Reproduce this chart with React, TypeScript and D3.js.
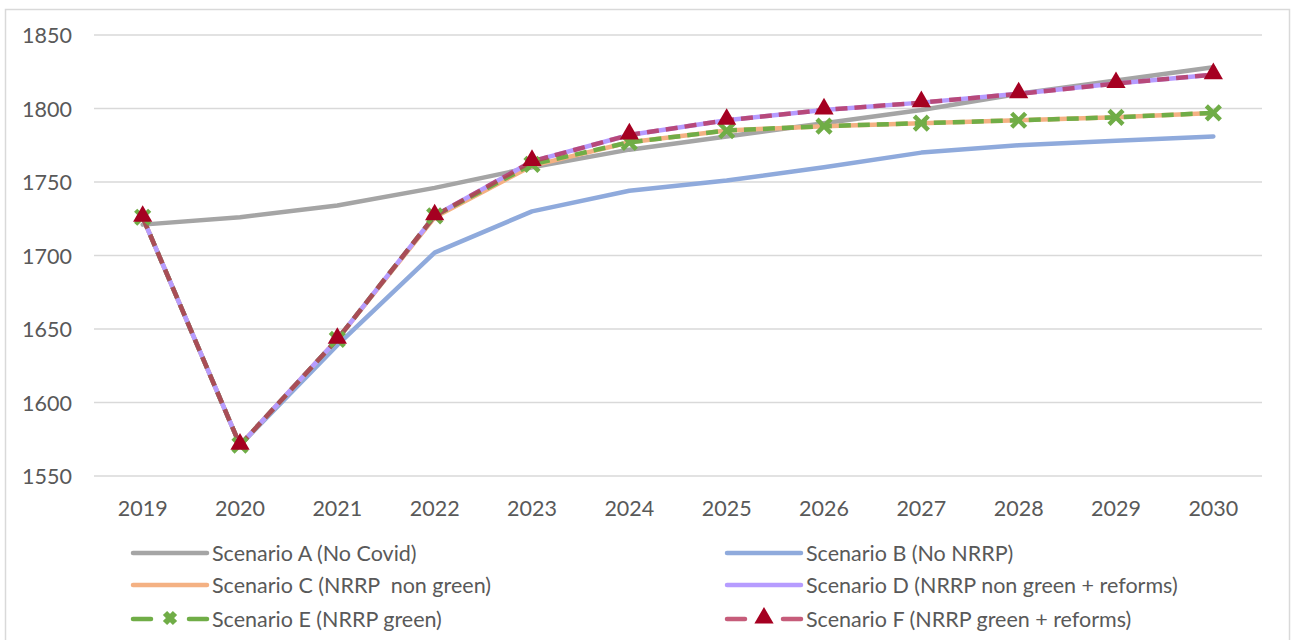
import * as d3 from "d3";
import React from "react";

const years = ["2019", "2020", "2021", "2022", "2023", "2024", "2025", "2026", "2027", "2028", "2029", "2030"];
const yTicks = [1550, 1600, 1650, 1700, 1750, 1800, 1850];

const scenarioA = [1721, 1726, 1734, 1746, 1760, 1772, 1781, 1790, 1799, 1810, 1819, 1828];
const scenarioB = [1726, 1571, 1639, 1702, 1730, 1744, 1751, 1760, 1770, 1775, 1778, 1781];
const scenarioC = [1726, 1571, 1643, 1726, 1761, 1777, 1785, 1788, 1790, 1792, 1794, 1797];
const scenarioD = [1726, 1571, 1643, 1727, 1764, 1782, 1792, 1799, 1804, 1810, 1817, 1823];
const scenarioE = [1726, 1571, 1643, 1727, 1762, 1777, 1785, 1788, 1790, 1792, 1794, 1797];
const scenarioF = [1726, 1571, 1643, 1727, 1764, 1782, 1792, 1799, 1804, 1810, 1817, 1823];

type Series = {
  name: string;
  values: number[];
  color: string;
  dash?: string;
  marker?: "x" | "tri";
  opacity?: number;
};

const series: Series[] = [
  { name: "Scenario A (No Covid)", values: scenarioA, color: "#A5A5A5" },
  { name: "Scenario B (No NRRP)", values: scenarioB, color: "#8FAADC" },
  { name: "Scenario C (NRRP  non green)", values: scenarioC, color: "#F4B183" },
  { name: "Scenario D (NRRP non green + reforms)", values: scenarioD, color: "#B69CFF" },
  { name: "Scenario E (NRRP green)", values: scenarioE, color: "#70AD47", dash: "12,7", marker: "x" },
  { name: "Scenario F (NRRP green + reforms)", values: scenarioF, color: "#B8345A", dash: "12,7", marker: "tri", opacity: 0.8 },
];

const font = "Lato, 'Open Sans', sans-serif";
const fontSize = 21.5;
const textColor = "#595959";

export default function App() {
  const ref = React.useRef<SVGSVGElement | null>(null);
  const width = 1293;
  const height = 640;

  React.useEffect(() => {
    if (!ref.current) return;
    const svg = d3.select(ref.current);
    svg.selectAll("*").remove();

    svg.append("rect").attr("width", width).attr("height", height).attr("fill", "#fff");
    svg
      .append("rect")
      .attr("x", 5.5)
      .attr("y", 9.5)
      .attr("width", 1284)
      .attr("height", 640)
      .attr("fill", "none")
      .attr("stroke", "#D9D9D9")
      .attr("stroke-width", 1.5);

    const x = d3.scaleBand<string>().domain(years).range([94, 1262]).padding(0);
    const y = d3.scaleLinear().domain([1550, 1850]).range([476, 35]);
    const cx = (i: number) => (x(years[i]) || 0) + x.bandwidth() / 2;

    // gridlines
    svg
      .append("g")
      .selectAll("line")
      .data(yTicks)
      .join("line")
      .attr("x1", 94)
      .attr("x2", 1262)
      .attr("y1", (d) => y(d))
      .attr("y2", (d) => y(d))
      .attr("stroke", "#D9D9D9")
      .attr("stroke-width", 1.5);

    svg
      .append("g")
      .selectAll("text")
      .data(yTicks)
      .join("text")
      .attr("x", 72)
      .attr("y", (d) => y(d))
      .attr("text-anchor", "end")
      .attr("dominant-baseline", "central")
      .attr("font-family", font)
      .attr("font-size", fontSize)
      .attr("fill", textColor)
      .text((d) => d);

    svg
      .append("g")
      .selectAll("text")
      .data(years)
      .join("text")
      .attr("x", (_d, i) => cx(i))
      .attr("y", 508)
      .attr("text-anchor", "middle")
      .attr("dominant-baseline", "central")
      .attr("font-family", font)
      .attr("font-size", fontSize)
      .attr("fill", textColor)
      .text((d) => d);

    const line = d3
      .line<number>()
      .x((_d, i) => cx(i))
      .y((d) => y(d));

    const triPath = d3.symbol().type(d3.symbolTriangle).size(160)();
    const xPath = "M-7,-7L7,7M7,-7L-7,7";

    series.forEach((s) => {
      const g = svg.append("g").attr("opacity", s.opacity ?? 1);
      g.append("path")
        .datum(s.values)
        .attr("d", line)
        .attr("fill", "none")
        .attr("stroke", s.color)
        .attr("stroke-width", 4.5)
        .attr("stroke-linejoin", "round")
        .attr("stroke-linecap", s.dash ? "butt" : "round")
        .attr("stroke-dasharray", s.dash || null);
    });

    series.forEach((s) => {
      if (!s.marker) return;
      const mg = svg.append("g");
      mg.selectAll("path")
        .data(s.values)
        .join("path")
        .attr("transform", (d, i) => `translate(${cx(i)},${y(d) - (s.marker === "tri" ? 1 : 0)})`)
        .attr("d", s.marker === "tri" ? triPath : xPath)
        .attr("fill", s.marker === "tri" ? "#A50021" : "none")
        .attr("stroke", s.marker === "tri" ? "none" : s.color)
        .attr("stroke-width", 4.5);
    });

    // legend
    const legendPos = [
      [133, 553],
      [727, 553],
      [133, 585],
      [727, 585],
      [133, 619],
      [727, 619],
    ];
    series.forEach((s, i) => {
      const [lx, ly] = legendPos[i];
      const g = svg.append("g");
      if (s.marker) {
        g.append("line")
          .attr("x1", lx).attr("x2", lx + 18).attr("y1", ly).attr("y2", ly)
          .attr("stroke", s.color).attr("stroke-width", 4.5).attr("stroke-linecap", "round")
          .attr("opacity", s.opacity ?? 1);
        g.append("line")
          .attr("x1", lx + 56).attr("x2", lx + 74).attr("y1", ly).attr("y2", ly)
          .attr("stroke", s.color).attr("stroke-width", 4.5).attr("stroke-linecap", "round")
          .attr("opacity", s.opacity ?? 1);
        g.append("path")
          .attr("transform", `translate(${lx + 37},${ly - 1})`)
          .attr("d", s.marker === "tri" ? triPath : "M-5,-5L5,5M5,-5L-5,5")
          .attr("fill", s.marker === "tri" ? "#A50021" : "none")
          .attr("stroke", s.marker === "tri" ? "none" : s.color)
          .attr("stroke-width", 6);
      } else {
        g.append("line")
          .attr("x1", lx).attr("x2", lx + 74).attr("y1", ly).attr("y2", ly)
          .attr("stroke", s.color).attr("stroke-width", 4.5).attr("stroke-linecap", "round");
      }
      g.append("text")
        .attr("x", lx + 79)
        .attr("y", ly)
        .attr("dominant-baseline", "central")
        .attr("font-family", font)
        .attr("font-size", fontSize)
        .attr("fill", textColor)
        .style("white-space", "pre")
        .text(s.name);
    });
  }, []);

  return (
    <svg
      ref={ref}
      width={width}
      height={height}
      style={{ position: "absolute", left: 0, top: 0, display: "block" }}
    />
  );
}
